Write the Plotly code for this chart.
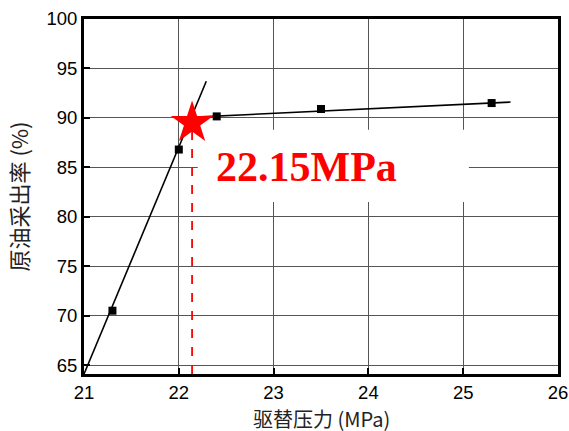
import plotly.graph_objects as go

# data
pressure = [21.3, 22.0, 22.4, 23.5, 25.3]
recovery = [70.5, 86.8, 90.15, 90.9, 91.5]
steep_x = [21.0, 22.29]
steep_y = [64.1, 93.7]
flat_x = [22.0, 25.5]
flat_y = [90.0, 91.6]
star_x = [22.14]
star_y = [89.5]
label_text = "22.15MPa"
x_title = "驱替压力 (MPa)"
y_title = "原油采出率 (%)"
x_ticks = [21, 22, 23, 24, 25, 26]
y_ticks = [65, 70, 75, 80, 85, 90, 95, 100]

fig = go.Figure()
fig.add_trace(go.Scatter(x=steep_x, y=steep_y, mode="lines",
                         line=dict(color="black", width=1.6), showlegend=False))
fig.add_trace(go.Scatter(x=flat_x, y=flat_y, mode="lines",
                         line=dict(color="black", width=1.6), showlegend=False))
fig.add_trace(go.Scatter(x=[star_x[0], star_x[0]], y=[64.1, star_y[0]], mode="lines",
                         line=dict(color="#ff0000", width=1.8, dash="dash"), showlegend=False))
fig.add_trace(go.Scatter(x=pressure, y=recovery, mode="markers",
                         marker=dict(symbol="square", size=8, color="black"), showlegend=False))
fig.add_trace(go.Scatter(x=star_x, y=star_y, mode="markers",
                         marker=dict(symbol="star", size=32, color="#ff0000",
                                     line=dict(width=0)), showlegend=False))

# white box hiding the grid behind the label
fig.add_shape(type="rect", xref="x", yref="y", x0=22.2, x1=25.06, y0=81.5, y1=88.8,
              fillcolor="white", line=dict(width=0), layer="between")
fig.add_annotation(x=22.37, y=85.0, xref="x", yref="y", text="<b>" + label_text + "</b>",
                   showarrow=False, xanchor="left", yanchor="middle",
                   font=dict(family="Liberation Serif", size=42, color="#ff0000"))
# x-axis title
fig.add_annotation(x=0.5, y=-0.124, xref="paper", yref="paper", text=x_title,
                   showarrow=False, xanchor="center", yanchor="middle",
                   font=dict(family="Noto Sans CJK SC", size=20, color="#222"))

axis_common = dict(showline=True, linecolor="black", linewidth=2.8, mirror=True,
                   ticks="inside", ticklen=6, tickwidth=2, tickcolor="black",
                   showgrid=True, gridcolor="#555555", gridwidth=1.3, zeroline=False,
                   automargin=False,
                   tickfont=dict(family="Liberation Sans", size=18.5, color="black"))

fig.update_layout(
    width=569, height=431,
    margin=dict(l=84, r=11, t=19, b=57),
    paper_bgcolor="white", plot_bgcolor="white",
    xaxis=dict(range=[21, 26], tickvals=x_ticks, **axis_common),
    yaxis=dict(range=[64.1, 100], tickvals=y_ticks,
               title=dict(text=y_title, standoff=12,
                          font=dict(family="Noto Sans CJK SC", size=22, color="#222")),
               **axis_common),
)

fig.write_html("out.html", post_script="document.body.style.margin='0';",
               config={"displayModeBar": False})
